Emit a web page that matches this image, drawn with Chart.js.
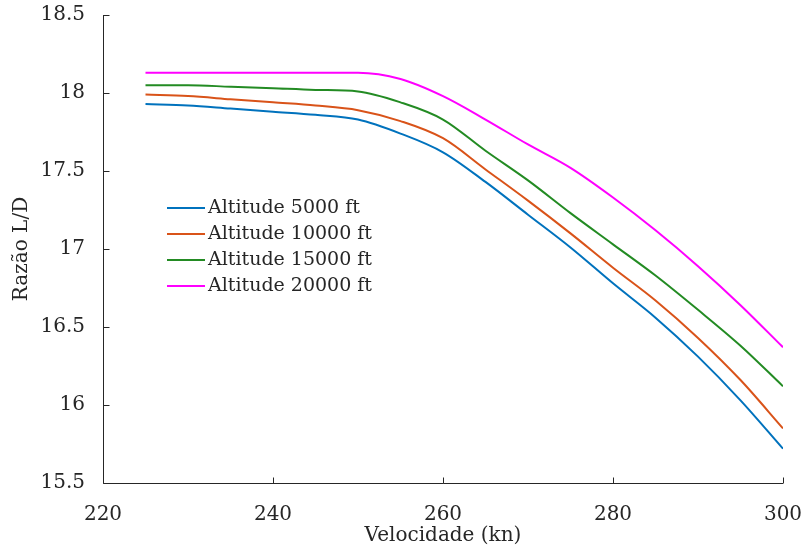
<!DOCTYPE html>
<html>
<head>
<meta charset="utf-8">
<script src="https://cdn.jsdelivr.net/npm/chart.js@4/dist/chart.umd.min.js"></script>
<style>
  html, body { margin: 0; padding: 0; background: #fff; }
  #wrap { width: 806px; height: 554px; position: relative; }
</style>
</head>
<body>
<div id="wrap"><canvas id="chart"></canvas></div>
<script>
// Velocidade (kn)
const speeds = [225, 230, 235, 240, 245, 250, 255, 260, 265, 270, 275, 280, 285, 290, 295, 300]

// Razão L/D per altitude
const alt5000 = [17.93, 17.92, 17.90, 17.88, 17.86, 17.83, 17.74, 17.62, 17.43, 17.22, 17.01, 16.78, 16.56, 16.31, 16.03, 15.72]
const alt10000 = [17.99, 17.98, 17.96, 17.94, 17.92, 17.89, 17.82, 17.71, 17.51, 17.31, 17.10, 16.88, 16.67, 16.43, 16.16, 15.85]
const alt15000 = [18.05, 18.05, 18.04, 18.03, 18.02, 18.01, 17.94, 17.83, 17.63, 17.44, 17.23, 17.03, 16.83, 16.61, 16.38, 16.12]
const alt20000 = [18.13, 18.13, 18.13, 18.13, 18.13, 18.13, 18.09, 17.98, 17.83, 17.67, 17.52, 17.33, 17.12, 16.89, 16.64, 16.37]

const seriesLabels = ['Altitude 5000 ft', 'Altitude 10000 ft', 'Altitude 15000 ft', 'Altitude 20000 ft']
const seriesColors = ['#0072BD', '#D95319', '#238B23', '#FF00FF']

const xTicks = [220, 240, 260, 280, 300]
const yMin = 15.5
const yMax = 18.5

const FONT = "'DejaVu Serif', serif"
const INK = '#262626'

// axes with inward ticks + legend drawn inside the plot
const framePlugin = {
  id: 'frame',
  afterDraw(chart) {
    const { ctx, chartArea: a, scales } = chart
    const x = scales.x
    const y = scales.y
    ctx.save()
    ctx.strokeStyle = INK
    ctx.lineWidth = 1
    ctx.beginPath()
    const L = Math.round(a.left) + 0.5
    const B = Math.round(a.bottom) + 0.5
    ctx.moveTo(L, a.top)
    ctx.lineTo(L, B)
    ctx.lineTo(a.right, B)
    x.ticks.forEach((t) => {
      const px = Math.round(x.getPixelForValue(t.value)) + 0.5
      ctx.moveTo(px, B)
      ctx.lineTo(px, B - 6)
    })
    y.ticks.forEach((t) => {
      const py = Math.round(y.getPixelForValue(t.value)) + 0.5
      ctx.moveTo(L, py)
      ctx.lineTo(L + 6, py)
    })
    ctx.stroke()

    // legend
    ctx.font = '19px ' + FONT
    ctx.textBaseline = 'middle'
    ctx.textAlign = 'left'
    chart.data.datasets.forEach((ds, i) => {
      const rowY = 208 + i * 26
      ctx.strokeStyle = ds.borderColor
      ctx.lineWidth = 2
      ctx.beginPath()
      ctx.moveTo(167, rowY)
      ctx.lineTo(205, rowY)
      ctx.stroke()
      ctx.fillStyle = INK
      ctx.fillText(ds.label, 208, rowY)
    })
    ctx.restore()
  },
}

const allSeries = [alt5000, alt10000, alt15000, alt20000]

new Chart(document.getElementById('chart'), {
  type: 'line',
  data: {
    datasets: seriesLabels.map((label, i) => ({
      label,
      data: speeds.map((v, j) => ({ x: v, y: allSeries[i][j] })),
      borderColor: seriesColors[i],
      borderWidth: 2,
      pointRadius: 0,
      fill: false,
      cubicInterpolationMode: 'monotone',
    })),
  },
  options: {
    responsive: true,
    maintainAspectRatio: false,
    animation: false,
    layout: { padding: { top: 15, right: 23, left: 0, bottom: 0 } },
    plugins: {
      legend: { display: false },
      tooltip: { enabled: false },
    },
    scales: {
      x: {
        type: 'linear',
        min: 220,
        max: 300,
        afterBuildTicks: (scale) => {
          scale.ticks = xTicks.map((v) => ({ value: v }))
        },
        afterFit: (scale) => {
          scale.height = 71
          scale.paddingRight = 0
          scale.paddingLeft = 0
        },
        grid: { display: false },
        border: { display: false },
        ticks: {
          color: INK,
          font: { family: FONT, size: 20 },
          padding: 12,
          maxRotation: 0,
        },
        title: {
          display: true,
          text: 'Velocidade (kn)',
          color: INK,
          font: { family: FONT, size: 20 },
          padding: { top: 0, bottom: 6 },
        },
      },
      y: {
        min: yMin,
        max: yMax,
        afterFit: (scale) => {
          scale.width = 103
          scale.paddingTop = 0
          scale.paddingBottom = 0
        },
        grid: { display: false },
        border: { display: false },
        ticks: {
          stepSize: 0.5,
          color: INK,
          font: { family: FONT, size: 20 },
          padding: 10,
          callback: (v) => String(+Number(v).toFixed(1)),
        },
        title: {
          display: true,
          text: 'Razão L/D',
          color: INK,
          font: { family: FONT, size: 20 },
          padding: { top: 10, bottom: 0 },
        },
      },
    },
  },
  plugins: [framePlugin],
})
</script>
</body>
</html>
